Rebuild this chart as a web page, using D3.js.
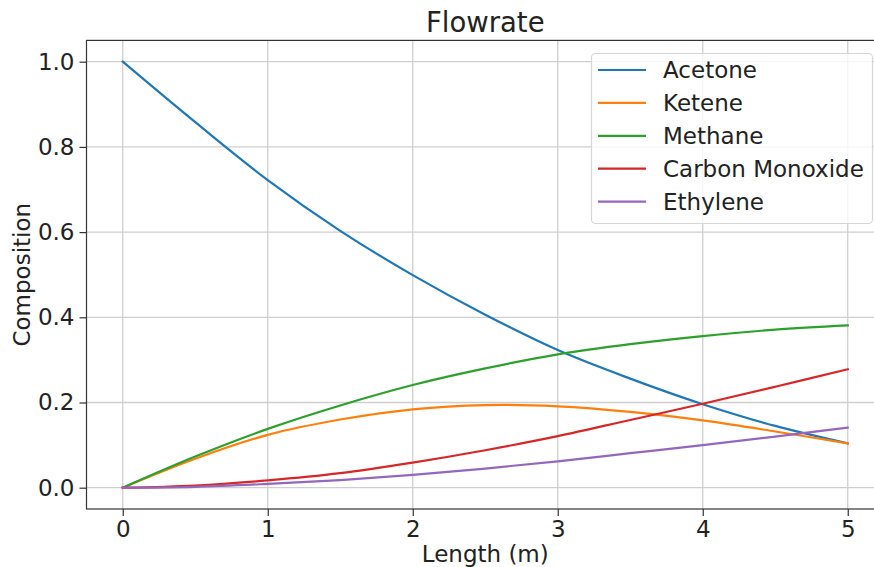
<!DOCTYPE html>
<html>
<head>
<meta charset="utf-8">
<script src="https://cdn.jsdelivr.net/npm/d3@7/dist/d3.min.js"></script>
<style>
  html, body { margin: 0; padding: 0; background: #fff; }
  svg { display: block; font-family: "DejaVu Sans", sans-serif; }
</style>
</head>
<body>
<svg id="chart" width="874" height="567"></svg>
<script>
// Reactor length positions (m)
const lengths = [0, 0.5, 1, 1.5, 2, 2.5, 3, 3.5, 4, 4.5, 5];

// Mole-fraction profiles along the reactor
const acetone  = [1.0, 0.858, 0.722, 0.603, 0.499, 0.406, 0.323, 0.256, 0.196, 0.145, 0.104];
const ketene   = [0.0, 0.068, 0.124, 0.160, 0.184, 0.194, 0.191, 0.178, 0.158, 0.132, 0.104];
const methane  = [0.0, 0.073, 0.138, 0.193, 0.241, 0.280, 0.313, 0.337, 0.356, 0.371, 0.381];
const carbonMonoxide = [0.0, 0.005, 0.017, 0.034, 0.059, 0.088, 0.121, 0.159, 0.197, 0.237, 0.278];
const ethylene = [0.0, 0.002, 0.009, 0.018, 0.030, 0.045, 0.062, 0.081, 0.100, 0.120, 0.141];

const seriesNames = ["Acetone", "Ketene", "Methane", "Carbon Monoxide", "Ethylene"];
const seriesValues = [acetone, ketene, methane, carbonMonoxide, ethylene];
const seriesColors = ["#1f77b4", "#ff7f0e", "#2ca02c", "#d62728", "#9467bd"];

const xTicks = [0, 1, 2, 3, 4, 5];
const yTicks = [0.0, 0.2, 0.4, 0.6, 0.8, 1.0];

const chartTitle = "Flowrate";
const xLabel = "Length (m)";
const yLabel = "Composition";

// Layout
const plot = { left: 86.5, right: 884, top: 40.4, bottom: 509 };
const svg = d3.select("#chart");
const textColor = "#222";
const fontSize = 23;

const x = d3.scaleLinear().domain([-0.25, 5.25]).range([plot.left, plot.right]);
const y = d3.scaleLinear().domain([-0.05, 1.05]).range([plot.bottom, plot.top]);

// Grid lines
const grid = svg.append("g");
grid.selectAll(".gx").data(xTicks).join("line")
  .attr("x1", d => x(d)).attr("x2", d => x(d))
  .attr("y1", plot.top).attr("y2", plot.bottom)
  .attr("stroke", "#cfcfcf").attr("stroke-width", 1.3);
grid.selectAll(".gy").data(yTicks).join("line")
  .attr("x1", plot.left).attr("x2", plot.right)
  .attr("y1", d => y(d)).attr("y2", d => y(d))
  .attr("stroke", "#cfcfcf").attr("stroke-width", 1.3);

// Series lines
const line = d3.line()
  .x((d, i) => x(lengths[i]))
  .y(d => y(d))
  .curve(d3.curveCatmullRom.alpha(0.5));

svg.append("g").selectAll("path").data(seriesValues).join("path")
  .attr("d", line)
  .attr("fill", "none")
  .attr("stroke", (d, i) => seriesColors[i])
  .attr("stroke-width", 2.2)
  .attr("stroke-linejoin", "round")
  .attr("stroke-linecap", "square");

// Axes
const xAxis = d3.axisBottom(x).tickValues(xTicks).tickFormat(d3.format("d"))
  .tickSize(7).tickPadding(5);
const yAxis = d3.axisLeft(y).tickValues(yTicks).tickFormat(d3.format(".1f"))
  .tickSize(7).tickPadding(5);

const gx = svg.append("g").attr("transform", `translate(0,${plot.bottom})`).call(xAxis);
const gy = svg.append("g").attr("transform", `translate(${plot.left},0)`).call(yAxis);
[gx, gy].forEach(g => {
  g.select(".domain").remove();
  g.selectAll(".tick line").attr("stroke", "#333").attr("stroke-width", 1.2);
  g.selectAll(".tick text").attr("fill", textColor).attr("font-size", fontSize)
    .attr("font-family", "DejaVu Sans");
});

// Frame
svg.append("rect")
  .attr("x", plot.left).attr("y", plot.top)
  .attr("width", plot.right - plot.left).attr("height", plot.bottom - plot.top)
  .attr("fill", "none").attr("stroke", "#333").attr("stroke-width", 1.2);

// Title and axis labels
svg.append("text").attr("x", (plot.left + plot.right) / 2).attr("y", 32)
  .attr("text-anchor", "middle").attr("font-size", 27.5).attr("fill", textColor)
  .text(chartTitle);
svg.append("text").attr("x", (plot.left + plot.right) / 2).attr("y", 562)
  .attr("text-anchor", "middle").attr("font-size", fontSize).attr("fill", textColor)
  .text(xLabel);
svg.append("text")
  .attr("transform", `translate(30,${(plot.top + plot.bottom) / 2}) rotate(-90)`)
  .attr("text-anchor", "middle").attr("font-size", fontSize).attr("fill", textColor)
  .text(yLabel);

// Legend
const legend = svg.append("g");
legend.append("rect")
  .attr("x", 591.5).attr("y", 53.5).attr("width", 281).attr("height", 170)
  .attr("rx", 4).attr("fill", "#fff").attr("fill-opacity", 0.8)
  .attr("stroke", "#d6d6d6").attr("stroke-width", 1.2);
const rows = legend.selectAll(".row").data(seriesNames).join("g")
  .attr("transform", (d, i) => `translate(0,${70 + i * 32.9})`);
rows.append("line")
  .attr("x1", 598).attr("x2", 646).attr("y1", 0).attr("y2", 0)
  .attr("stroke", (d, i) => seriesColors[i]).attr("stroke-width", 2.2);
rows.append("text")
  .attr("x", 663).attr("y", 0).attr("dy", "0.36em")
  .attr("font-size", fontSize).attr("fill", textColor)
  .text(d => d);
</script>
</body>
</html>
